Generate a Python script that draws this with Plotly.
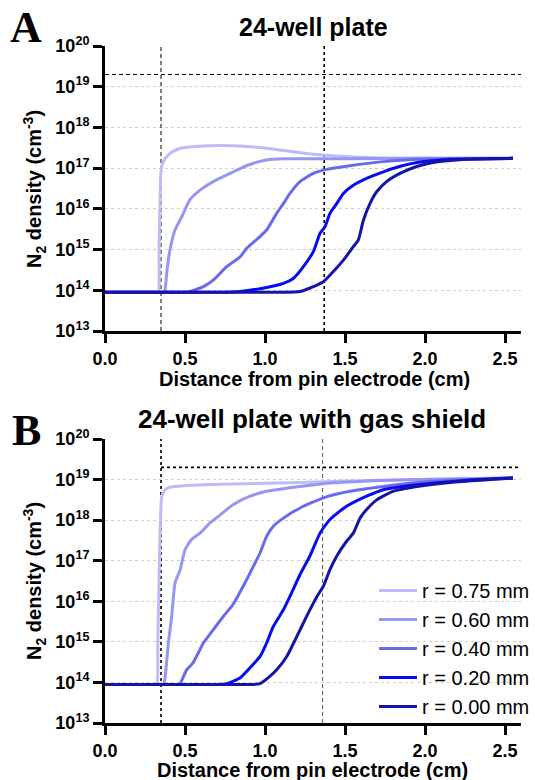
import numpy as np
import plotly.graph_objects as go

W, H = 535, 780
FONT = "Liberation Sans, Arial, sans-serif"

labels = ["r = 0.75 mm", "r = 0.60 mm", "r = 0.40 mm", "r = 0.20 mm", "r = 0.00 mm"]
colors = ["#bcbcf7", "#9696f3", "#6a6aef", "#0a0af0", "#1414a8"]

# Panel A: 24-well plate  (y values are log10 of N2 density, cm^-3)
a_x_075 = [0, 0.31, 0.333, 0.338, 0.343, 0.348, 0.355, 0.37, 0.39, 0.42, 0.47, 0.59, 0.80, 1.01, 1.22, 1.36, 1.64, 1.95, 2.55]
a_y_075 = [13.95, 13.95, 13.95, 15.0, 16.0, 16.8, 17.05, 17.2, 17.3, 17.4, 17.49, 17.54, 17.55, 17.49, 17.38, 17.32, 17.26, 17.24, 17.24]
a_x_060 = [0, 0.34, 0.365, 0.375, 0.385, 0.406, 0.4375, 0.479, 0.53, 0.594, 0.677, 0.76, 0.844, 0.927, 1.01, 1.11, 1.5, 2.0, 2.55]
a_y_060 = [13.95, 13.95, 13.95, 14.0, 14.4, 14.99, 15.48, 15.8, 16.22, 16.46, 16.67, 16.83, 16.99, 17.12, 17.2, 17.23, 17.23, 17.24, 17.24]
a_x_040 = [0, 0.45, 0.5, 0.53, 0.57, 0.615, 0.677, 0.76, 0.844, 0.885, 0.969, 1.01, 1.073, 1.115, 1.156, 1.219, 1.302, 1.385, 1.53, 1.74, 1.95, 2.55]
a_y_040 = [13.95, 13.95, 13.95, 13.97, 14.02, 14.09, 14.25, 14.58, 14.82, 15.03, 15.32, 15.48, 15.89, 16.13, 16.38, 16.67, 16.87, 16.97, 17.06, 17.16, 17.22, 17.24]
a_x_020 = [0, 0.6, 0.7, 0.844, 1.01, 1.115, 1.177, 1.24, 1.302, 1.344, 1.375, 1.406, 1.448, 1.49, 1.552, 1.635, 1.74, 1.84, 1.95, 2.156, 2.55]
a_y_020 = [13.95, 13.95, 13.95, 13.97, 14.07, 14.17, 14.29, 14.58, 14.95, 15.4, 15.56, 15.89, 16.13, 16.38, 16.58, 16.75, 16.91, 17.04, 17.14, 17.22, 17.24]
a_x_000 = [0, 1.0, 1.1, 1.219, 1.302, 1.365, 1.427, 1.49, 1.552, 1.583, 1.615, 1.656, 1.698, 1.76, 1.844, 1.948, 2.05, 2.26, 2.55]
a_y_000 = [13.95, 13.95, 13.95, 13.97, 14.09, 14.21, 14.46, 14.74, 15.07, 15.23, 15.72, 16.13, 16.42, 16.67, 16.87, 17.04, 17.14, 17.22, 17.24]

# Panel B: 24-well plate with gas shield
b_x_075 = [0, 0.30, 0.324, 0.33, 0.338, 0.345, 0.355, 0.375, 0.406, 0.49, 0.80, 1.22, 1.64, 2.06, 2.55]
b_y_075 = [13.95, 13.95, 13.95, 15.0, 16.5, 17.8, 18.59, 18.75, 18.81, 18.85, 18.89, 18.93, 18.98, 19.01, 19.04]
b_x_060 = [0, 0.34, 0.365, 0.375, 0.396, 0.417, 0.4375, 0.47, 0.5, 0.54, 0.594, 0.656, 0.72, 0.80, 0.906, 1.01, 1.22, 1.427, 1.74, 2.06, 2.55]
b_y_060 = [13.95, 13.95, 13.95, 14.1, 14.97, 15.63, 16.45, 16.78, 17.27, 17.52, 17.68, 17.93, 18.13, 18.38, 18.59, 18.71, 18.83, 18.92, 18.98, 19.01, 19.04]
b_x_040 = [0, 0.44, 0.465, 0.48, 0.51, 0.55, 0.615, 0.677, 0.74, 0.80, 0.885, 0.927, 0.969, 1.01, 1.052, 1.115, 1.219, 1.365, 1.53, 1.74, 1.95, 2.2, 2.55]
b_y_040 = [13.95, 13.95, 13.95, 14.05, 14.31, 14.48, 14.97, 15.3, 15.63, 15.92, 16.53, 16.86, 17.19, 17.6, 17.85, 18.05, 18.3, 18.55, 18.71, 18.83, 18.93, 18.99, 19.04]
b_x_020 = [0, 0.6, 0.7, 0.76, 0.844, 0.906, 0.969, 1.01, 1.052, 1.115, 1.156, 1.219, 1.28, 1.344, 1.396, 1.427, 1.51, 1.635, 1.74, 1.95, 2.25, 2.55]
b_y_020 = [13.95, 13.95, 13.95, 13.97, 14.11, 14.36, 14.64, 14.97, 15.38, 15.79, 16.12, 16.66, 17.11, 17.68, 17.97, 18.09, 18.34, 18.59, 18.75, 18.87, 18.98, 19.04]
b_x_000 = [0, 0.8, 0.9, 0.969, 1.03, 1.073, 1.136, 1.2, 1.26, 1.325, 1.365, 1.406, 1.448, 1.51, 1.552, 1.594, 1.635, 1.698, 1.8, 1.95, 2.156, 2.37, 2.55]
b_y_000 = [13.95, 13.95, 13.95, 13.97, 14.15, 14.31, 14.64, 15.14, 15.63, 16.12, 16.37, 16.78, 17.11, 17.48, 17.68, 18.05, 18.26, 18.5, 18.71, 18.83, 18.93, 18.99, 19.04]

x_ticks = [0, 0.5, 1.0, 1.5, 2.0, 2.5]
y_exps = [13, 14, 15, 16, 17, 18, 19, 20]
y_ticktext = [f"10<sup>{e}</sup>" for e in y_exps]
ref_x_a = [0.35, 1.37]
ref_x_b = [0.35, 1.36]
ref_density = 2e19
y_lo, y_hi = 1e13, 1e20
x_hi = 2.6

panel_a = [(a_x_075, a_y_075), (a_x_060, a_y_060), (a_x_040, a_y_040), (a_x_020, a_y_020), (a_x_000, a_y_000)]
panel_b = [(b_x_075, b_y_075), (b_x_060, b_y_060), (b_x_040, b_y_040), (b_x_020, b_y_020), (b_x_000, b_y_000)]


def px(x):
    return x / W


def py(y):
    return 1 - y / H


fig = go.Figure()

dash_thin = dict(color="black", width=1, dash="4px,3px")
dash_thick = dict(color="black", width=1.6, dash="3px,3px")
dash_gray = dict(color="#555555", width=1, dash="4px,3px")


def ref_line(xs, ys, xa, ya, line):
    fig.add_trace(go.Scatter(x=xs, y=ys, mode="lines", xaxis=xa, yaxis=ya, line=line,
                             showlegend=False, hoverinfo="skip"))


# reference lines, panel A
ref_line([ref_x_a[0], ref_x_a[0]], [y_lo, y_hi], "x", "y", dash_thin)
ref_line([ref_x_a[1], ref_x_a[1]], [y_lo, y_hi], "x", "y", dash_thick)
ref_line([0, x_hi], [ref_density, ref_density], "x", "y", dash_thin)
# reference lines, panel B
ref_line([ref_x_b[0], ref_x_b[0]], [y_lo, y_hi], "x2", "y2", dash_thick)
ref_line([ref_x_b[1], ref_x_b[1]], [y_lo, y_hi], "x2", "y2", dash_gray)
ref_line([ref_x_b[0], x_hi], [ref_density, ref_density], "x2", "y2", dash_thick)

for i, (xs, ys) in enumerate(panel_a):
    fig.add_trace(go.Scatter(x=xs, y=np.power(10.0, np.array(ys, dtype=float)).tolist(), mode="lines",
                             xaxis="x", yaxis="y",
                             line=dict(color=colors[i], width=3, shape="spline", smoothing=0.5),
                             showlegend=False, name=labels[i]))
for i, (xs, ys) in enumerate(panel_b):
    fig.add_trace(go.Scatter(x=xs, y=np.power(10.0, np.array(ys, dtype=float)).tolist(), mode="lines",
                             xaxis="x2", yaxis="y2",
                             line=dict(color=colors[i], width=3, shape="spline", smoothing=0.5),
                             showlegend=True, name=labels[i], legendgroup=f"g{i}"))

xdom = [px(105), px(521)]
axis_common = dict(showline=True, linecolor="black", linewidth=3, ticks="outside",
                   ticklen=9, tickwidth=3, tickcolor="black", zeroline=False, automargin=False,
                   tickfont=dict(family=FONT, size=18, color="black", weight="bold"))
xaxis_common = dict(axis_common, range=[0, x_hi], tickvals=x_ticks, tickformat=".1f", showgrid=False)
yaxis_common = dict(axis_common, type="log", range=[13, 20], tickvals=[float(10.0 ** e) for e in y_exps],
                    ticktext=y_ticktext, showgrid=True, gridcolor="#cfcfcf", griddash="dot", gridwidth=1)

fig.update_layout(
    template="none",
    width=W, height=H, margin=dict(l=0, r=0, t=0, b=0, pad=0),
    paper_bgcolor="white", plot_bgcolor="white",
    xaxis=dict(xaxis_common, domain=xdom, anchor="y"),
    yaxis=dict(yaxis_common, domain=[py(331), py(46)], anchor="x"),
    xaxis2=dict(xaxis_common, domain=xdom, anchor="y2"),
    yaxis2=dict(yaxis_common, domain=[py(723), py(439)], anchor="x2"),
    legend=dict(x=px(374), y=py(571), xanchor="left", yanchor="top", bgcolor="rgba(0,0,0,0)",
                font=dict(family=FONT, size=20, color="black"), tracegroupgap=0,
                itemwidth=38, borderwidth=0),
    font=dict(family=FONT, color="black"),
)

annots = [
    dict(text="<b>24-well plate</b>", x=px(313), y=py(27), size=25, family=FONT),
    dict(text="<b>24-well plate with gas shield</b>", x=px(312), y=py(419), size=26, family=FONT),
    dict(text="<b>A</b>", x=px(26), y=py(28), size=44, family="Liberation Serif, Times New Roman, serif"),
    dict(text="<b>B</b>", x=px(26), y=py(430), size=44, family="Liberation Serif, Times New Roman, serif"),
    dict(text="<b>Distance from pin electrode (cm)</b>", x=px(314), y=py(379), size=20, family=FONT),
    dict(text="<b>Distance from pin electrode (cm)</b>", x=px(312), y=py(770), size=20, family=FONT),
]
for a in annots:
    fig.add_annotation(text=a["text"], x=a["x"], y=a["y"], xref="paper", yref="paper",
                       xanchor="center", yanchor="middle", showarrow=False,
                       font=dict(family=a["family"], size=a["size"], color="black"))
for yc in [189, 581]:
    fig.add_annotation(text="<b>N<sub>2</sub> density (cm<sup>-3</sup>)</b>", x=px(34), y=py(yc),
                       xref="paper", yref="paper", xanchor="center", yanchor="middle",
                       textangle=-90, showarrow=False, font=dict(family=FONT, size=20, color="black"))

fig.write_html("out.html")
